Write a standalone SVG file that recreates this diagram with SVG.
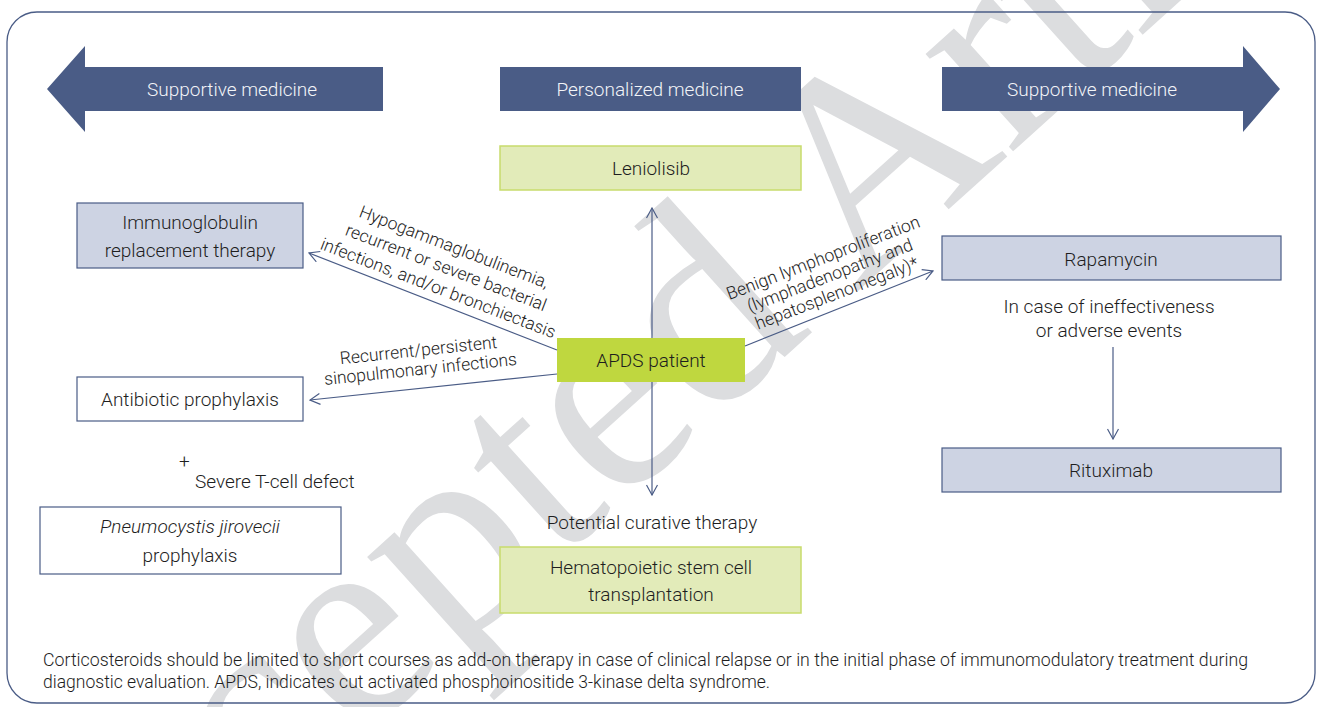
<svg xmlns="http://www.w3.org/2000/svg" width="1319" height="707" viewBox="0 0 1319 707">
<defs>
<marker id="ah" viewBox="0 0 12 12" refX="11" refY="6" markerWidth="12" markerHeight="12" markerUnits="userSpaceOnUse" orient="auto">
<polyline points="1,0.5 11,6 1,11.5" fill="none" stroke="#4a5c86" stroke-width="1.2"/>
</marker>
<style>
.t{font-family:Roboto,"Noto Sans","Liberation Sans",sans-serif;font-weight:300;fill:#1e1e1e;font-size:19px}
.w{fill:#f2f4f8}
.c{text-anchor:middle}
.navy{fill:#4a5c86}
.blue{fill:#cdd3e3;stroke:#4a5c86;stroke-width:1.2}
.wbox{fill:#ffffff;stroke:#4a5c86;stroke-width:1.2}
.green{fill:#e2ebb9;stroke:#c8dc6c;stroke-width:1.5}
.conn{fill:none;stroke:#4a5c86;stroke-width:1.2}
.lbl{font-size:17.5px}
</style>
</defs>
<rect width="1319" height="707" fill="#ffffff"/>
<text x="0" y="0" transform="translate(15,1050) rotate(-42)" font-family="Liberation Serif,serif" font-size="285" fill="#dcdddf">Accepted Article</text>
<rect x="7" y="12" width="1308" height="691" rx="30" fill="none" stroke="#4a5c86" stroke-width="1.3"/>

<g id="arrow-left">
<path class="navy" d="M47,89 L85,46 L85,67 L383,67 L383,111 L85,111 L85,132 Z"/>
<text class="t w c" x="232" y="96">Supportive medicine</text>
</g>
<g id="personalized">
<rect class="navy" x="500" y="67" width="301" height="44"/>
<text class="t w c" x="650" y="96">Personalized medicine</text>
</g>
<g id="arrow-right">
<path class="navy" d="M942,67 L1243,67 L1243,46 L1280,89 L1243,132 L1243,111 L942,111 Z"/>
<text class="t w c" x="1092" y="96">Supportive medicine</text>
</g>

<g id="leniolisib">
<rect class="green" x="500" y="146" width="301" height="44"/>
<text class="t c" x="651" y="175">Leniolisib</text>
</g>
<g id="immunoglobulin">
<rect class="blue" x="77" y="203" width="226" height="65"/>
<text class="t c" x="190" y="229">Immunoglobulin</text>
<text class="t c" x="190" y="257">replacement therapy</text>
</g>
<g id="apds">
<rect x="557" y="338" width="188" height="44" fill="#bfd73f"/>
<text class="t c" x="651" y="367">APDS patient</text>
</g>
<g id="antibiotic">
<rect class="wbox" x="77" y="377" width="226" height="44"/>
<text class="t c" x="190" y="406">Antibiotic prophylaxis</text>
</g>
<g id="tcell">
<text class="t" x="179" y="468" font-size="16">+</text>
<text class="t" x="195" y="488">Severe T-cell defect</text>
</g>
<g id="pneumocystis">
<rect class="wbox" x="40" y="507" width="301" height="67"/>
<text class="t c" x="190" y="533" font-style="italic">Pneumocystis jirovecii</text>
<text class="t c" x="190" y="562">prophylaxis</text>
</g>
<g id="hsct">
<text class="t c" x="652" y="529">Potential curative therapy</text>
<rect class="green" x="500" y="547" width="301" height="66"/>
<text class="t c" x="651" y="574">Hematopoietic stem cell</text>
<text class="t c" x="651" y="601">transplantation</text>
</g>
<g id="rapamycin">
<rect class="blue" x="942" y="236" width="339" height="44"/>
<text class="t c" x="1111" y="266">Rapamycin</text>
<text class="t c" x="1109" y="313">In case of ineffectiveness</text>
<text class="t c" x="1109" y="337">or adverse events</text>
</g>
<g id="rituximab">
<rect class="blue" x="942" y="448" width="339" height="44"/>
<text class="t c" x="1111" y="477">Rituximab</text>
</g>

<g id="connectors">
<line class="conn" x1="652" y1="338" x2="652" y2="208" marker-end="url(#ah)"/>
<line class="conn" x1="652" y1="382" x2="652" y2="495" marker-end="url(#ah)"/>
<line class="conn" x1="557" y1="350" x2="309" y2="253" marker-end="url(#ah)"/>
<line class="conn" x1="557" y1="374" x2="310" y2="400" marker-end="url(#ah)"/>
<line class="conn" x1="745" y1="346" x2="933" y2="271" marker-end="url(#ah)"/>
<line class="conn" x1="1113" y1="347" x2="1113" y2="439" marker-end="url(#ah)"/>
<g transform="translate(444,273) rotate(21)">
<text class="t c lbl" x="0" y="-22">Hypogammaglobulinemia,</text>
<text class="t c lbl" x="0" y="0">recurrent or severe bacterial</text>
<text class="t c lbl" x="0" y="22">infections, and/or bronchiectasis</text>
</g>
<g transform="translate(420,365) rotate(-6)">
<text class="t c lbl" x="0" y="-9">Recurrent/persistent</text>
<text class="t c lbl" x="0" y="10">sinopulmonary infections</text>
</g>
<g transform="translate(832,281) rotate(-21)">
<text class="t c lbl" x="0" y="-19">Benign lymphoproliferation</text>
<text class="t c lbl" x="0" y="0">(lymphadenopathy and</text>
<text class="t c lbl" x="0" y="19">hepatosplenomegaly)*</text>
</g>
</g>

<g id="footer">
<text class="t" x="43" y="666" font-size="15" textLength="1205" lengthAdjust="spacingAndGlyphs">Corticosteroids should be limited to short courses as add-on therapy in case of clinical relapse or in the initial phase of immunomodulatory treatment during</text>
<text class="t" x="43" y="688" font-size="15" textLength="727" lengthAdjust="spacingAndGlyphs">diagnostic evaluation. APDS, indicates cut activated phosphoinositide 3-kinase delta syndrome.</text>
</g>
</svg>
